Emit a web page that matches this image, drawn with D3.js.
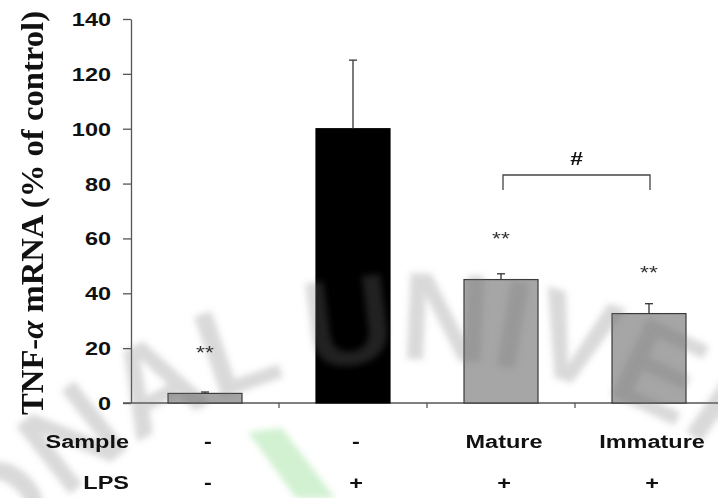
<!DOCTYPE html>
<html>
<head>
<meta charset="utf-8">
<script src="https://cdn.jsdelivr.net/npm/d3@7"></script>
<style>
  body { margin: 0; background: #fff; }
  svg { display: block; }
</style>
</head>
<body>
<div id="viz"></div>
<script>
// Data
const groups = ['ctrl', 'lps', 'mature', 'immature'];
const values = [3.5, 100, 45, 32.6];
const errors = [0.5, 25, 2.1, 3.6];
const barColors = ['#a6a6a6', '#000000', '#a6a6a6', '#a6a6a6'];
const stars = ['**', '', '**', '**'];
const sampleRow = ['-', '-', 'Mature', 'Immature'];
const lpsRow = ['-', '+', '+', '+'];
const yTicks = [0, 20, 40, 60, 80, 100, 120, 140];

const width = 718;
const height = 498;
const stretch = 1.27; // labels in the picture are wide

const svg = d3.select('#viz')
  .append('svg')
    .attr('width', width)
    .attr('height', height);

const defs = svg.append('defs');
defs.append('filter').attr('id', 'soft')
  .attr('x', '-20%').attr('y', '-20%').attr('width', '140%').attr('height', '140%')
  .append('feGaussianBlur').attr('stdDeviation', 3);

// Scales
const xScale = d3.scaleBand()
  .domain(groups)
  .range([131, 723])
  .paddingInner(0.5)
  .paddingOuter(0.25);
const yScale = d3.scaleLinear()
  .domain([0, 140])
  .range([403, 19]);

const wideText = (g, x, y, txt, anchor, size, weight, fill) => g.append('text')
  .attr('transform', `translate(${x},${y}) scale(${stretch},1)`)
  .attr('text-anchor', anchor)
  .style('font-family', 'Liberation Sans, Arial, sans-serif')
  .style('font-size', size + 'px')
  .style('font-weight', weight)
  .attr('fill', fill)
  .text(txt);

// Faint watermark of the source (arc text + green mark), drawn first
const wm = svg.append('g').attr('filter', 'url(#soft)').style('pointer-events', 'none');
defs.append('path')
  .attr('id', 'wmArc')
  .attr('d', 'M-100,880 A520,520 0 0 1 940,880');
wm.append('path')
  .attr('d', 'M248,432 L282,428 L335,498 L296,498 Z')
  .attr('fill', '#7ad87a')
  .attr('opacity', 0.35);

// y axis
const yAxis = d3.axisLeft(yScale)
  .tickValues(yTicks)
  .tickSize(8)
  .tickSizeOuter(0);
const yAxisGroup = svg.append('g')
  .attr('class', 'y-axis-group')
  .attr('transform', 'translate(131,0)')
  .call(yAxis);
yAxisGroup.select('.domain').attr('stroke', '#555').attr('stroke-width', 1.3);
yAxisGroup.selectAll('.tick line').attr('stroke', '#555').attr('stroke-width', 1.3);
yAxisGroup.selectAll('.tick text')
  .attr('x', null)
  .attr('dy', null)
  .attr('y', 6.5)
  .attr('transform', `translate(-20,0) scale(${stretch},1)`)
  .attr('fill', '#111')
  .style('font-family', 'Liberation Sans, Arial, sans-serif')
  .style('font-size', '18.5px')
  .style('font-weight', 700);

// x axis line with ticks on band boundaries
const step = xScale.step();
svg.append('line')
  .attr('x1', 123).attr('x2', width)
  .attr('y1', yScale(0)).attr('y2', yScale(0))
  .attr('stroke', '#555').attr('stroke-width', 1.3);
svg.append('g')
  .selectAll('line')
  .data(groups.slice(1))
  .join('line')
    .attr('x1', (d, i) => 131 + (i + 1) * step)
    .attr('x2', (d, i) => 131 + (i + 1) * step)
    .attr('y1', yScale(0))
    .attr('y2', yScale(0) + 5)
    .attr('stroke', '#555').attr('stroke-width', 1.3);

// Bars
svg.append('g')
  .selectAll('rect')
  .data(values)
  .join('rect')
    .attr('x', (d, i) => xScale(groups[i]))
    .attr('y', d => yScale(d))
    .attr('width', xScale.bandwidth())
    .attr('height', d => yScale(0) - yScale(d))
    .attr('fill', (d, i) => barColors[i])
    .attr('stroke', (d, i) => i === 1 ? '#000' : '#3a3a3a')
    .attr('stroke-width', 1.2);

// Error bars (upper only)
const errG = svg.append('g').attr('stroke', '#333').attr('stroke-width', 1.3);
values.forEach((v, i) => {
  const cx = xScale(groups[i]) + xScale.bandwidth() / 2;
  errG.append('line')
    .attr('x1', cx).attr('x2', cx)
    .attr('y1', yScale(v)).attr('y2', yScale(v + errors[i]));
  errG.append('line')
    .attr('x1', cx - 4).attr('x2', cx + 4)
    .attr('y1', yScale(v + errors[i])).attr('y2', yScale(v + errors[i]));
});

// Watermark letters lie over the bars in the picture
const wmText = svg.append('g').attr('filter', 'url(#soft)').style('pointer-events', 'none');
const wmStyle = t => t
  .style('font-family', 'Liberation Sans, Arial, sans-serif')
  .style('font-size', '125px')
  .style('font-weight', 700)
  .attr('fill', '#777')
  .attr('opacity', 0.28);
wmStyle(wmText.append('text'))
  .append('textPath')
    .attr('href', '#wmArc')
    .attr('startOffset', 682)
    .attr('text-anchor', 'end')
    .text('NATIONAL');
wmStyle(wmText.append('text'))
  .append('textPath')
    .attr('href', '#wmArc')
    .attr('startOffset', 705)
    .attr('text-anchor', 'start')
    .text('UNIVERSITY');

// Significance stars
const starY = [359, 0, 245, 279];
stars.forEach((s, i) => {
  if (!s) return;
  const cx = xScale(groups[i]) + xScale.bandwidth() / 2;
  wideText(svg, cx, starY[i], s, 'middle', 18, 400, '#333');
});

// Bracket between mature and immature
const bx1 = xScale('mature') + xScale.bandwidth() / 2 + 2;
const bx2 = xScale('immature') + xScale.bandwidth() / 2 + 1;
svg.append('path')
  .attr('d', `M${bx1},190V175H${bx2}V190`)
  .attr('fill', 'none')
  .attr('stroke', '#444')
  .attr('stroke-width', 1.3);
wideText(svg, (bx1 + bx2) / 2, 165, '#', 'middle', 18, 700, '#111');

// Row labels under the axis
wideText(svg, 129, 447.5, 'Sample', 'end', 18.5, 700, '#111');
wideText(svg, 129, 488.5, 'LPS', 'end', 18.5, 700, '#111');
sampleRow.forEach((t, i) => {
  const cx = xScale(groups[i]) + xScale.bandwidth() / 2 + 3;
  wideText(svg, cx, 447.5, t, 'middle', 18.5, 700, '#111');
});
lpsRow.forEach((t, i) => {
  const cx = xScale(groups[i]) + xScale.bandwidth() / 2 + 3;
  wideText(svg, cx, 488.5, t, 'middle', 18.5, 700, '#111');
});

// y axis title
const yTitle = svg.append('text')
  .attr('transform', 'translate(43,213) rotate(-90)')
  .attr('text-anchor', 'middle')
  .attr('textLength', 404)
  .attr('lengthAdjust', 'spacingAndGlyphs')
  .style('font-family', 'Liberation Serif, Times New Roman, serif')
  .style('font-size', '32px')
  .style('font-weight', 700)
  .attr('fill', '#111');
yTitle.append('tspan').text('TNF-');
yTitle.append('tspan').style('font-style', 'italic').text('α');
yTitle.append('tspan').text(' mRNA (% of control)');
</script>
</body>
</html>
